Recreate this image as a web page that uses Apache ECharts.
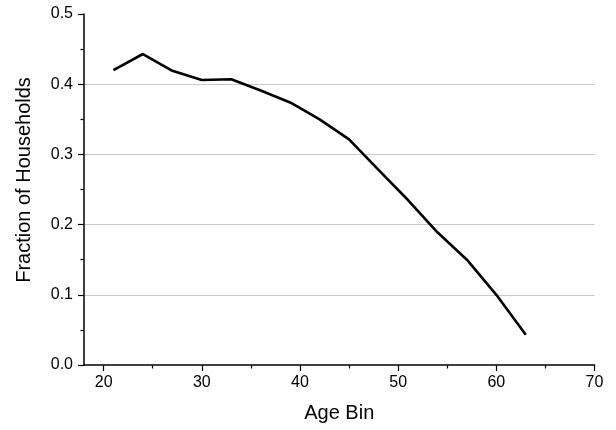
<!DOCTYPE html>
<html>
<head>
<meta charset="utf-8">
<script src="https://cdn.jsdelivr.net/npm/echarts@6/dist/echarts.min.js"></script>
<style>html,body{margin:0;padding:0;background:#fff}#c{width:616px;height:430px}</style>
</head>
<body>
<div id="c"></div>
<script>
const ageBins = [21, 24, 27, 30, 33, 36, 39, 42, 45, 48, 51, 54, 57, 60, 63];
const fraction = [0.420, 0.443, 0.419, 0.406, 0.407, 0.391, 0.374, 0.350, 0.3215, 0.278, 0.235, 0.189, 0.150, 0.100, 0.043];
const xMajorTicks = [20, 30, 40, 50, 60, 70];
const xMinorTicks = [25, 35, 45, 55, 65];
const yTicks = [0.0, 0.1, 0.2, 0.3, 0.4, 0.5];

const font = '"Liberation Sans", Arial, Helvetica, sans-serif';
const chart = echarts.init(document.getElementById('c'), null, {renderer: 'canvas'});
const axisLineStyle = {color: '#000', width: 1.5};
chart.setOption({
  animation: false,
  backgroundColor: '#fff',
  grid: {left: 84, right: 21.5, top: 14, bottom: 65, containLabel: false},
  xAxis: [{
    type: 'value', min: 18, max: 70,
    name: 'Age Bin', nameLocation: 'middle', nameGap: 38,
    nameTextStyle: {fontFamily: font, fontSize: 20, color: '#000'},
    axisLine: {show: true, onZero: false, lineStyle: axisLineStyle},
    axisTick: {show: true, customValues: xMajorTicks, length: 6, lineStyle: {color: '#000', width: 1.2}},
    axisLabel: {show: true, customValues: xMajorTicks, margin: 10, fontFamily: font, fontSize: 16, color: '#000'},
    splitLine: {show: false}
  }, {
    type: 'value', min: 18, max: 70, position: 'bottom',
    axisLine: {show: false},
    axisTick: {show: true, customValues: xMinorTicks, length: 3.5, lineStyle: {color: '#000', width: 1.2}},
    axisLabel: {show: false},
    splitLine: {show: false}
  }],
  yAxis: {
    type: 'value', min: 0, max: 0.5, interval: 0.1,
    name: 'Fraction of Households', nameLocation: 'middle', nameGap: 50,
    nameTextStyle: {fontFamily: font, fontSize: 20, color: '#000', padding: [0, 0, 0, 19]},
    axisLine: {show: true, lineStyle: axisLineStyle},
    axisTick: {show: true, length: 6, lineStyle: {color: '#000', width: 1.2}},
    minorTick: {show: true, splitNumber: 2, length: 3.5, lineStyle: {color: '#000', width: 1.2}},
    axisLabel: {margin: 11, fontFamily: font, fontSize: 16, color: '#000',
      customValues: yTicks,
      formatter: v => v.toFixed(1)},
    splitLine: {show: true, showMinLine: false, showMaxLine: false, lineStyle: {color: '#c8c8c8', width: 1}}
  },
  series: [{
    type: 'line',
    xAxisIndex: 0,
    data: ageBins.map((a, i) => [a, fraction[i]]),
    showSymbol: false,
    lineStyle: {color: '#000', width: 2.6},
    itemStyle: {color: '#000'}
  }]
});
</script>
</body>
</html>
